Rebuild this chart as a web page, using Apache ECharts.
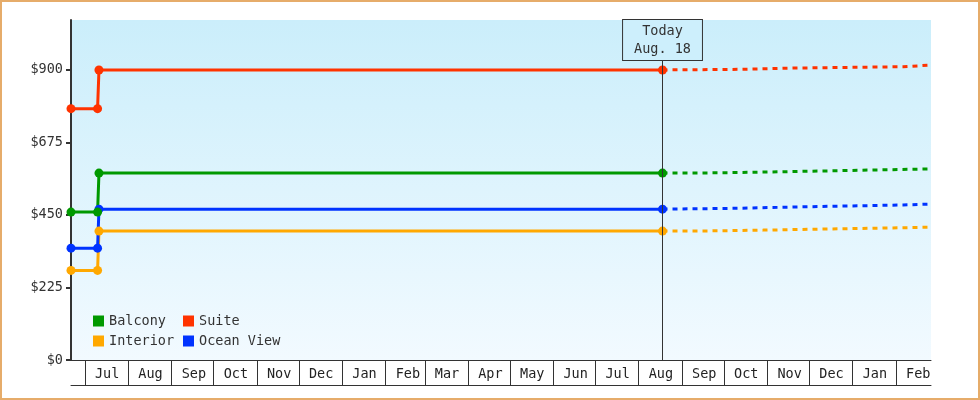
<!DOCTYPE html>
<html>
<head>
<meta charset="utf-8">
<title></title>
<script src="https://cdn.jsdelivr.net/npm/echarts@6/dist/echarts.min.js"></script>
<style>
    body { margin: 0; background: #fff; }
    #wrap { position: relative; width: 980px; height: 400px; }
    #chart { width: 980px; height: 400px; }
    #frame { position: absolute; left: 0; top: 0; width: 980px; height: 400px; box-sizing: border-box; border: 2px solid #e6ac6a; pointer-events: none; }
</style>
</head>
<body>
<div id="wrap">
    <div id="chart"></div>
    <div id="frame"></div>
</div>
<script>
    // names in legend order
    var categories = ["Balcony", "Suite", "Interior", "Ocean View"];

    // history: start, before change, after change, today
    var historyDates = ["2017-06-21", "2017-07-10", "2017-07-11", "2018-08-18"];
    var balconyHist = [459, 459, 580, 580];
    var suiteHist = [780, 780, 900, 900];
    var interiorHist = [278, 278, 400, 400];
    var oceanHist = [347, 347, 468, 468];

    // forecast (dashed) after today
    var forecastDatesA = ["2018-08-18", "2018-10-14", "2018-10-15", "2018-11-22", "2018-11-23", "2019-02-06", "2019-02-07", "2019-02-26"];
    var suiteFcst = [900, 902, 905, 906, 908, 910, 914, 915];
    var oceanFcst = [468, 471, 474, 475, 478, 481, 484, 484];
    var forecastDatesB = ["2018-08-18", "2018-09-11", "2018-09-12", "2018-10-29", "2018-10-30", "2019-02-26"];
    var balconyFcst = [580, 580, 582, 583, 585, 593];
    var interiorFcst = [400, 400, 402, 403, 406, 412];

    var today = "2018-08-18";
    var todayLabel = ["Today", "Aug. 18"];
    var todayLineTop = 931;

    var yTicks = [0, 225, 450, 675, 900];
    var yMax = 1055;
    var monthStarts = ["2017-07-01", "2017-08-01", "2017-09-01", "2017-10-01", "2017-11-01", "2017-12-01",
        "2018-01-01", "2018-02-01", "2018-03-01", "2018-04-01", "2018-05-01", "2018-06-01", "2018-07-01",
        "2018-08-01", "2018-09-01", "2018-10-01", "2018-11-01", "2018-12-01", "2019-01-01", "2019-02-01"];
    var monthNames = ["Jan", "Feb", "Mar", "Apr", "May", "Jun", "Jul", "Aug", "Sep", "Oct", "Nov", "Dec"];

    var colors = { "Balcony": "#009900", "Suite": "#ff3300", "Interior": "#ffa800", "Ocean View": "#0033ff" };
    var font = "DejaVu Sans Mono";

    function ts(s) { return +echarts.time.parse(s) }

    function zip(d, v) {
        var out = [];
        for (var i = 0; i < d.length; i++) out.push([ts(d[i]), v[i]]);
        return out
    }

    function solid(name, vals) {
        return {
            name: name, type: "line", data: zip(historyDates, vals),
            symbol: "circle", symbolSize: 9, z: 3,
            itemStyle: { color: colors[name] },
            lineStyle: { color: colors[name], width: 3 }
        }
    }

    function dashed(name, dates, vals) {
        return {
            name: name + " forecast", type: "line", data: zip(dates, vals),
            showSymbol: false, symbol: "none", z: 2,
            itemStyle: { color: colors[name] },
            lineStyle: { color: colors[name], width: 3, type: [5, 5] }
        }
    }

    var xMin = ts(historyDates[0]), xMax = ts(forecastDatesA[forecastDatesA.length - 1]);
    var tickVals = monthStarts.map(ts);

    var series = [
        dashed("Suite", forecastDatesA, suiteFcst),
        dashed("Balcony", forecastDatesB, balconyFcst),
        dashed("Ocean View", forecastDatesA, oceanFcst),
        dashed("Interior", forecastDatesB, interiorFcst),
        solid("Interior", interiorHist),
        solid("Ocean View", oceanHist),
        solid("Balcony", balconyHist),
        solid("Suite", suiteHist)
    ];
    series[0].markLine = {
        silent: true, symbol: "none", animation: false,
        lineStyle: { color: "#333", width: 1, type: "solid" },
        label: {
            show: true, position: "end", distance: 0,
            formatter: todayLabel.join("\n"),
            fontFamily: font, fontSize: 13.5, color: "#333", lineHeight: 18,
            backgroundColor: "#cdeffc", borderColor: "#333", borderWidth: 1,
            padding: [3, 11, 1, 11]
        },
        data: [[{ coord: [ts(today), 0] }, { coord: [ts(today), todayLineTop] }]]
    };

    var chart = echarts.init(document.getElementById("chart"));
    chart.setOption({
        animation: false,
        grid: {
            left: 71, right: 49, top: 20, bottom: 40, show: true, borderWidth: 0,
            backgroundColor: new echarts.graphic.LinearGradient(0, 0, 0, 1, [
                { offset: 0, color: "#cbeefb" }, { offset: 1, color: "#f2faff" }])
        },
        legend: {
            data: categories, left: 88, top: 308, width: 192,
            itemWidth: 11, itemHeight: 11, itemGap: 4, icon: "rect",
            textStyle: { fontFamily: font, fontSize: 13.5, color: "#333", width: 70, lineHeight: 16 }
        },
        xAxis: [{
            type: "value", min: xMin, max: xMax, scale: true,
            axisLine: { lineStyle: { color: "#333", width: 1 } },
            axisTick: { customValues: tickVals, length: 25, lineStyle: { color: "#333", width: 1 } },
            axisLabel: {
                customValues: tickVals, align: "left", padding: [0, 0, 0, 10], margin: 7,
                fontFamily: font, fontSize: 13.5, color: "#222",
                formatter: function (v) { return monthNames[new Date(v).getMonth()] }
            },
            splitLine: { show: false }
        }, {
            type: "value", min: xMin, max: xMax, scale: true, position: "bottom", offset: 25,
            axisLine: { lineStyle: { color: "#333", width: 1 } },
            axisTick: { show: false }, axisLabel: { show: false }, splitLine: { show: false }
        }],
        yAxis: {
            type: "value", min: 0, max: yMax,
            axisLine: { show: true, lineStyle: { color: "#333", width: 2 } },
            axisTick: { show: true, customValues: yTicks, length: 5, lineStyle: { color: "#333", width: 2 } },
            axisLabel: {
                customValues: yTicks, margin: 8, fontFamily: font, fontSize: 13.5, color: "#333",
                formatter: function (v) { return "$" + v }
            },
            splitLine: { show: false }
        },
        series: series
    });
</script>
</body>
</html>
